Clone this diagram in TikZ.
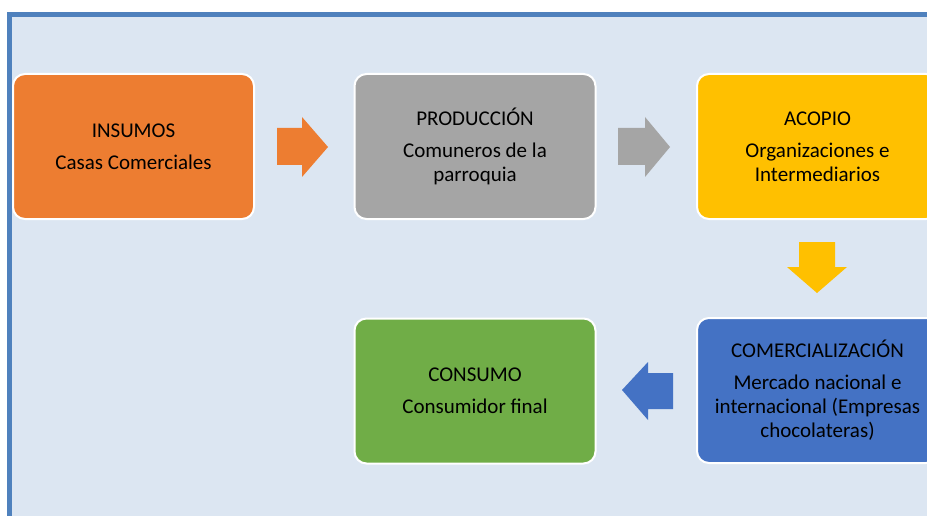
\documentclass[tikz,border=0pt]{standalone}
\usepackage{fontspec}
\setmainfont{Carlito}
\definecolor{bgblue}{HTML}{DCE6F2}
\definecolor{frameblue}{HTML}{4F81BD}
\definecolor{corange}{HTML}{ED7D31}
\definecolor{cgray}{HTML}{A5A5A5}
\definecolor{cyellow}{HTML}{FFC000}
\definecolor{cblue}{HTML}{4472C4}
\definecolor{cgreen}{HTML}{70AD47}
\tikzset{
  stagebox/.style={draw=white, line width=2pt, rounded corners=12pt,
    minimum width=241pt, minimum height=145pt, align=center, text=black,
    font=\fontsize{21}{24}\selectfont, inner sep=2pt},
  blockarrow/.style={draw=none}
}
\begin{document}
\begin{tikzpicture}[x=1pt,y=-1pt]
\useasboundingbox (0,0) rectangle (927,516);
\clip (0,0) rectangle (927,516);
\fill[white] (0,0) rectangle (927,516);
\draw[line width=5pt, draw=frameblue, fill=bgblue] (9.5,14.5) rectangle (980,580);

\node[stagebox, fill=corange] (ins) at (133.5,146.5) {INSUMOS\\[8pt]Casas Comerciales};
\node[stagebox, fill=cgray] (prod) at (475,146.5) {PRODUCCIÓN\\[8pt]Comuneros de la\\parroquia};
\node[stagebox, fill=cyellow] (aco) at (817.5,146.5) {ACOPIO\\[8pt]Organizaciones e\\Intermediarios};
\node[stagebox, fill=cblue] (com) at (817.5,390.5) {COMERCIALIZACIÓN\\[8pt]Mercado nacional e\\internacional (Empresas\\chocolateras)};
\node[stagebox, fill=cgreen] (con) at (475,391) {CONSUMO\\[8pt]Consumidor final};

% block arrows between stages
\fill[blockarrow, corange] (277,128) -- (302,128) -- (302,117) -- (328,147) -- (302,177) -- (302,165) -- (277,165) -- cycle;
\fill[blockarrow, cgray] (618,128) -- (645,128) -- (645,117) -- (670,147) -- (645,177) -- (645,165) -- (618,165) -- cycle;
\fill[blockarrow, cyellow] (799,242) -- (835,242) -- (835,267) -- (847,267) -- (817,293) -- (787,267) -- (799,267) -- cycle;
\fill[blockarrow, cblue] (673,373) -- (648,373) -- (648,362) -- (622,390) -- (648,420) -- (648,409) -- (673,409) -- cycle;
\end{tikzpicture}
\end{document}
